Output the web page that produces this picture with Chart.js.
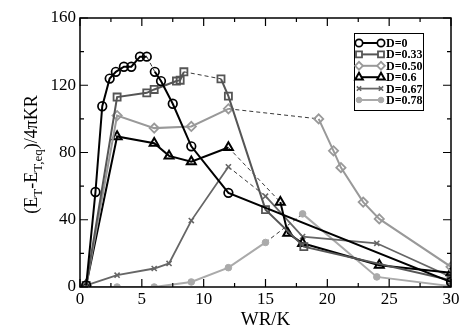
<!DOCTYPE html>
<html>
<head>
<meta charset="utf-8">
<script src="https://cdn.jsdelivr.net/npm/chart.js@4.4.1/dist/chart.umd.min.js"></script>
<style>
  html, body { margin: 0; padding: 0; background: #fff; }
  canvas { display: block; }
</style>
</head>
<body>
<canvas id="myChart" width="466" height="329"></canvas>
<script>
// data: WR/K values and energies for each D
const labels = ["D=0", "D=0.33", "D=0.50", "D=0.6", "D=0.67", "D=0.78"];

const wr0  = [0.5, 1.25, 1.8, 2.4, 2.9, 3.55, 4.15, 4.85, 5.4, 6.05, 6.55, 7.5, 9.0, 12.0, 30];
const e0   = [1, 56.5, 107.5, 124, 128, 131, 131, 137, 137, 128, 122.5, 109, 83.7, 56, 3];

const wr33 = [0.5, 3.0, 5.4, 6.0, 7.8, 8.1, 8.4, 11.4, 12.0, 15.0, 18.1, 30];
const e33  = [1, 113, 115.5, 117.5, 122.5, 123, 128, 123.8, 113.5, 46, 24, 4];

const wr50 = [0.5, 3.0, 6.0, 9.0, 12.0, 19.3, 20.5, 21.1, 22.9, 24.2, 30];
const e50  = [1, 102, 94.5, 95.5, 106, 100, 81, 71, 50.5, 40.5, 12];

const wr60 = [0.5, 3.0, 6.0, 7.2, 9.0, 12.0, 16.2, 16.8, 18.0, 24.2, 30];
const e60  = [1, 89.5, 85.5, 78, 74.5, 83, 50.5, 32, 26, 13, 8.5];

const wr67 = [0.5, 3.0, 6.0, 7.2, 9.0, 12.0, 15.0, 18.0, 24.0, 30];
const e67  = [1, 7, 11, 14, 39.5, 71.5, 54, 30, 26, 6];

const wr78 = [0.5, 3.0, 6.0, 9.0, 12.0, 15.0, 18.0, 24.0, 30];
const e78  = [0, 0, 0, 3, 11.5, 26.5, 43.5, 6, 0.5];

// index of the point where the dashed jump starts in each series
const jumpAt = [8, 6, 4, 5, 5, 5];

const xTicks = [0, 5, 10, 15, 20, 25, 30];
const yTicks = [0, 40, 80, 120, 160];

const SERIF = "'Liberation Serif', 'DejaVu Serif', serif";

const styles = [
  { color: "#000000", style: "circle",    radius: 4.3, bw: 1.7, fill: "rgba(0,0,0,0)", lw: 2 },
  { color: "#555555", style: "rect",      radius: 5,   bw: 1.8, fill: "rgba(0,0,0,0)", lw: 2 },
  { color: "#999999", style: "rectRot",   radius: 4.6, bw: 1.8, fill: "rgba(0,0,0,0)", lw: 2 },
  { color: "#000000", style: "triangle",  radius: 5.2, bw: 2,   fill: "rgba(0,0,0,0)", lw: 2 },
  { color: "#666666", style: "crossRot",  radius: 3.6, bw: 1.6, fill: "#666666",       lw: 1.8 },
  { color: "#aaaaaa", style: "circle",    radius: 3.3, bw: 1,   fill: "#aaaaaa",       lw: 2 }
];

function pairs(xs, ys) {
  return xs.map((x, i) => ({ x: x, y: ys[i] }));
}

const series = [pairs(wr0, e0), pairs(wr33, e33), pairs(wr50, e50),
                pairs(wr60, e60), pairs(wr67, e67), pairs(wr78, e78)];

const datasets = series.map((pts, k) => {
  const s = styles[k];
  return {
    label: labels[k],
    data: pts,
    showLine: true,
    borderColor: s.color,
    borderWidth: s.lw,
    pointStyle: s.style,
    pointRadius: s.radius,
    pointBorderWidth: s.bw,
    pointBorderColor: s.color,
    pointBackgroundColor: s.fill,
    segment: {
      borderDash: ctx => ctx.p0DataIndex === jumpAt[k] ? [4, 3] : undefined,
      borderColor: ctx => ctx.p0DataIndex === jumpAt[k] ? "#222222" : undefined,
      borderWidth: ctx => ctx.p0DataIndex === jumpAt[k] ? 0.9 : undefined
    }
  };
});

// frame, inward ticks, axis titles and legend box
const decorations = {
  id: "decorations",
  afterDraw(chart) {
    const ctx = chart.ctx;
    const a = chart.chartArea;
    const xs = chart.scales.x, ys = chart.scales.y;
    ctx.save();
    ctx.strokeStyle = "#000";
    ctx.lineWidth = 1.5;
    ctx.strokeRect(a.left, a.top, a.right - a.left, a.bottom - a.top);

    ctx.lineWidth = 1.2;
    ctx.beginPath();
    for (let v = 0; v <= 30; v += 2.5) {
      const px = xs.getPixelForValue(v);
      const len = v % 5 === 0 ? 8 : 4;
      ctx.moveTo(px, a.bottom); ctx.lineTo(px, a.bottom - len);
      ctx.moveTo(px, a.top); ctx.lineTo(px, a.top + len);
    }
    for (let v = 0; v <= 160; v += 20) {
      const py = ys.getPixelForValue(v);
      const len = v % 40 === 0 ? 8 : 4;
      ctx.moveTo(a.left, py); ctx.lineTo(a.left + len, py);
      ctx.moveTo(a.right, py); ctx.lineTo(a.right - len, py);
    }
    ctx.stroke();

    // x title
    ctx.fillStyle = "#000";
    ctx.font = "19px " + SERIF;
    ctx.textAlign = "center";
    ctx.textBaseline = "alphabetic";
    ctx.fillText("WR/K", (a.left + a.right) / 2, 325);

    // y title with subscripts
    const parts = [
      ["(E", 18, 0], ["T", 13, 5], ["-E", 18, 0], ["T,eq", 13, 5], [")/4\u03c0KR", 18, 0]
    ];
    let total = 0;
    parts.forEach(p => { ctx.font = p[1] + "px " + SERIF; total += ctx.measureText(p[0]).width; });
    ctx.translate(37, (a.top + a.bottom) / 2 + 2);
    ctx.rotate(-Math.PI / 2);
    ctx.textAlign = "left";
    let cx = -total / 2;
    parts.forEach(p => {
      ctx.font = p[1] + "px " + SERIF;
      ctx.fillText(p[0], cx, p[2]);
      cx += ctx.measureText(p[0]).width;
    });
    ctx.restore();

    // legend
    ctx.save();
    ctx.fillStyle = "#fff";
    ctx.fillRect(354, 33, 69, 77);
    ctx.strokeStyle = "#000";
    ctx.lineWidth = 1;
    ctx.strokeRect(354.5, 33.5, 69, 77);
    labels.forEach((lab, k) => {
      const s = styles[k];
      const y = 43 + k * 11.4;
      ctx.strokeStyle = s.color;
      ctx.lineWidth = s.lw;
      ctx.beginPath();
      ctx.moveTo(359, y); ctx.lineTo(381, y);
      ctx.stroke();
      [359, 381].forEach(x => {
        ctx.lineWidth = s.bw;
        ctx.strokeStyle = s.color;
        ctx.fillStyle = s.fill === "rgba(0,0,0,0)" ? "#fff" : s.fill;
        Chart.helpers.drawPoint(ctx, {
          pointStyle: s.style, radius: s.radius * 0.85, rotation: 0, borderWidth: s.bw
        }, x, y);
      });
      ctx.fillStyle = "#000";
      ctx.font = "bold 12px " + SERIF;
      ctx.textAlign = "left";
      ctx.textBaseline = "middle";
      ctx.fillText(lab, 386, y + 1);
    });
    ctx.restore();
  }
};

const element = document.getElementById("myChart").getContext("2d");
const myChart = new Chart(element, {
  type: "scatter",
  data: { datasets: datasets },
  options: {
    responsive: false,
    devicePixelRatio: 1,
    animation: false,
    layout: { padding: { top: 18, right: 15, left: 0, bottom: 0 } },
    plugins: { legend: { display: false }, tooltip: { enabled: false } },
    scales: {
      x: {
        type: "linear", min: 0, max: 30,
        grid: { display: false, drawTicks: false },
        border: { display: false },
        afterBuildTicks: s => { s.ticks = xTicks.map(v => ({ value: v })); },
        afterFit: s => { s.height = 42; },
        ticks: { padding: 2, color: "#000", font: { family: SERIF, size: 17 } }
      },
      y: {
        type: "linear", min: 0, max: 160,
        grid: { display: false, drawTicks: false },
        border: { display: false },
        afterBuildTicks: s => { s.ticks = yTicks.map(v => ({ value: v })); },
        afterFit: s => { s.width = 80; },
        ticks: { padding: 4, color: "#000", font: { family: SERIF, size: 17 } }
      }
    }
  },
  plugins: [decorations]
});
</script>
</body>
</html>
